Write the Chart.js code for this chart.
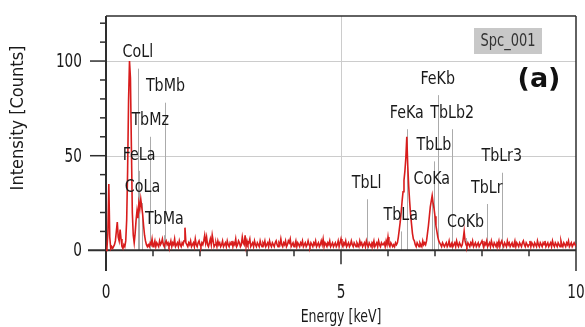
<!DOCTYPE html>
<html>
<head>
<meta charset="utf-8">
<script src="https://cdn.jsdelivr.net/npm/chart.js@4/dist/chart.umd.min.js"></script>
<style>
  html, body { margin: 0; padding: 0; background: #fff; }
  canvas { display: block; }
</style>
</head>
<body>
<canvas id="spectrum" width="585" height="327"></canvas>
<script>
// EDS spectrum, one value per 0.02 keV channel (0 - 10 keV)
const channelWidth = 0.02;
const counts = [
  0,1,9,35,7,1,2,1,2,3,5,10,15,7,5,11,6,2,1,3,
  2,5,16,42,79,100,91,55,20,8,4,9,16,21,17,25,22,27,23,19,
  13,8,5,3,2,3,
  2,4,3,6,2,3,5,2,4,3,2,5,3,4,6,3,2,4,5,3,
  4,2,3,5,2,4,3,6,2,3,4,2,5,3,2,4,3,5,12,4,
  3,2,4,3,5,2,3,4,2,6,3,2,4,5,3,2,4,3,5,8,
  4,7,3,2,4,6,3,8,5,2,3,4,2,5,3,4,2,3,5,2,
  3,4,2,5,3,2,4,3,5,2,4,3,6,2,3,5,4,2,3,7,
  4,3,8,2,5,3,4,6,2,3,4,2,5,3,2,4,3,2,5,3,
  2,4,3,5,2,3,4,2,5,3,2,4,3,2,4,5,3,2,4,3,
  6,3,2,4,3,5,2,3,5,4,6,2,3,4,2,3,5,2,4,3,
  2,4,3,5,2,3,4,2,3,5,3,2,4,3,2,4,3,5,2,3,
  4,2,3,5,3,6,2,4,3,2,4,3,5,2,3,4,2,3,4,2,
  3,5,2,4,6,3,2,4,3,5,2,3,4,2,3,5,3,2,4,3,
  2,4,3,2,5,3,4,2,3,4,2,5,3,2,4,3,2,4,3,5,
  2,3,4,2,5,3,2,4,3,3,4,2,5,3,7,3,2,4,3,2,
  3,2,4,3,4,7,11,15,20,26,31,37,42,49,60,45,34,26,19,14,
  9,6,5,3,2,4,3,2,4,3,2,5,3,4,3,5,9,13,18,23,
  26,29,25,22,18,13,10,7,5,4,3,2,4,3,2,
  3,4,2,3,5,2,3,4,2,3,4,2,5,3,2,4,3,2,3,6,
  10,5,3,2,4,3,2,4,3,5,2,3,4,2,3,4,2,3,4,5,
  3,2,4,3,5,2,3,4,2,5,3,2,4,3,2,4,3,5,2,4,
  5,3,2,4,3,2,5,3,4,2,3,4,2,3,5,2,4,3,2,4,
  3,2,4,5,3,2,4,3,2,3,5,2,4,3,2,4,3,2,5,3,
  2,4,3,2,4,3,5,2,3,4,2,3,4,2,5,3,2,4,3,2,
  4,3,2,5,3,2,4,3,2,4,3,5,2,3,4,2,3,4,3,2
];

// element line markers: name, energy (keV), marker height (counts)
const markerNames  = ["CoLl", "FeLa", "CoLa", "TbMz", "TbMa", "TbMb", "TbLl", "TbLa", "FeKa", "CoKa", "TbLb", "FeKb", "TbLb2", "CoKb", "TbLr", "TbLr3"];
const markerEnergy = [0.678, 0.705, 0.776, 0.94, 1.24, 1.265, 5.546, 6.273, 6.40, 6.93, 6.978, 7.058, 7.367, 7.649, 8.102, 8.42];
const markerHeight = [96, 42, 25, 60, 8, 78, 27, 10, 64, 29, 47, 82, 64, 6.5, 24.5, 41];

const xTickLabels = [0, 5, 10];
const yTickLabels = [0, 50, 100];
const xGridLines = [5];
const yGridLines = [50, 100];

const energies = counts.map((c, i) => +(i * channelWidth).toFixed(2));

const FONT = '"DejaVu Sans Condensed", "DejaVu Sans", sans-serif';

function seg(ctx, x1, y1, x2, y2) {
  ctx.beginPath();
  ctx.moveTo(x1, y1);
  ctx.lineTo(x2, y2);
  ctx.stroke();
}

// narrow text: squeeze horizontally so it looks like the original condensed face
function narrowText(ctx, txt, x, y, sx) {
  ctx.save();
  ctx.translate(x, y);
  ctx.scale(sx, 1);
  ctx.fillText(txt, 0, 0);
  ctx.restore();
}

const spectrumDecor = {
  id: "spectrumDecor",
  beforeDatasetsDraw(chart) {
    const { ctx, chartArea: a, scales: { x, y } } = chart;
    const y0 = y.getPixelForValue(0);
    ctx.save();
    // grid
    ctx.strokeStyle = "#cccccc";
    ctx.lineWidth = 1;
    yGridLines.forEach(v => {
      const py = Math.round(y.getPixelForValue(v)) + 0.5;
      seg(ctx, a.left, py, a.right, py);
    });
    xGridLines.forEach(v => {
      const px = Math.round(x.getPixelForValue(v)) + 0.5;
      seg(ctx, px, a.top, px, y0);
    });
    // element markers
    ctx.strokeStyle = "#ababab";
    markerEnergy.forEach((e, i) => {
      const px = Math.round(x.getPixelForValue(e)) + 0.5;
      seg(ctx, px, y.getPixelForValue(markerHeight[i]), px, y0);
    });
    // frame + axes
    ctx.strokeStyle = "#2e2e2e";
    ctx.lineWidth = 1.5;
    seg(ctx, a.left, a.top, a.right, a.top);
    seg(ctx, a.right, a.top, a.right, a.bottom);
    ctx.lineWidth = 2;
    seg(ctx, a.left, a.top, a.left, a.bottom);
    seg(ctx, a.left - 18, y0, a.right, y0);
    ctx.lineWidth = 1.5;
    for (let v = 10; v <= 120; v += 10) {
      const py = y.getPixelForValue(v);
      const len = v % 50 === 0 ? 16 : 6;
      seg(ctx, a.left - len, py, a.left, py);
    }
    for (let v = 1; v < 10; v++) {
      const px = x.getPixelForValue(v);
      const len = v % 5 === 0 ? 14 : 6;
      seg(ctx, px, y0, px, y0 + len);
    }
    ctx.restore();
  },
  afterDatasetsDraw(chart) {
    const { ctx, chartArea: a, scales: { x, y } } = chart;
    ctx.save();
    ctx.fillStyle = "#1a1a1a";
    ctx.font = "18px " + FONT;
    ctx.textAlign = "center";
    ctx.textBaseline = "middle";
    markerNames.forEach((n, i) => {
      narrowText(ctx, n, x.getPixelForValue(markerEnergy[i]), y.getPixelForValue(markerHeight[i]) - 16, 0.88);
    });

    // tick labels
    ctx.font = "19px " + FONT;
    ctx.textAlign = "right";
    yTickLabels.forEach(v => narrowText(ctx, String(v), a.left - 24, y.getPixelForValue(v) + 1, 0.8));
    ctx.textAlign = "center";
    xTickLabels.forEach(v => narrowText(ctx, String(v), x.getPixelForValue(v), 293, 0.8));

    // axis titles
    ctx.font = "17px " + FONT;
    narrowText(ctx, "Energy [keV]", (a.left + a.right) / 2, 318, 0.82);
    ctx.save();
    ctx.translate(18, 118);
    ctx.rotate(-Math.PI / 2);
    ctx.font = "18px " + FONT;
    ctx.fillText("Intensity [Counts]", 0, 0);
    ctx.restore();

    // spectrum tag and panel letter
    ctx.fillStyle = "#c8c8c8";
    ctx.fillRect(474, 28, 68, 26);
    ctx.fillStyle = "#333333";
    ctx.font = "17px " + FONT;
    narrowText(ctx, "Spc_001", 508, 42, 0.85);
    ctx.fillStyle = "#111111";
    ctx.font = "bold 27px 'DejaVu Sans'";
    ctx.fillText("(a)", 539, 80);
    ctx.restore();
  }
};

new Chart(document.getElementById("spectrum"), {
  type: "line",
  data: {
    labels: energies,
    datasets: [{
      label: "Spc_001",
      data: counts,
      borderColor: "#d81c1c",
      borderWidth: 1.6,
      pointRadius: 0,
      tension: 0,
      fill: false
    }]
  },
  options: {
    responsive: false,
    animation: false,
    devicePixelRatio: 1,
    layout: { padding: { left: 106, right: 9, top: 16, bottom: 56 } },
    plugins: { legend: { display: false }, tooltip: { enabled: false } },
    scales: {
      x: { type: "linear", min: 0, max: 10, display: false },
      y: { min: -10.9, max: 123.8, display: false }
    }
  },
  plugins: [spectrumDecor]
});
</script>
</body>
</html>
